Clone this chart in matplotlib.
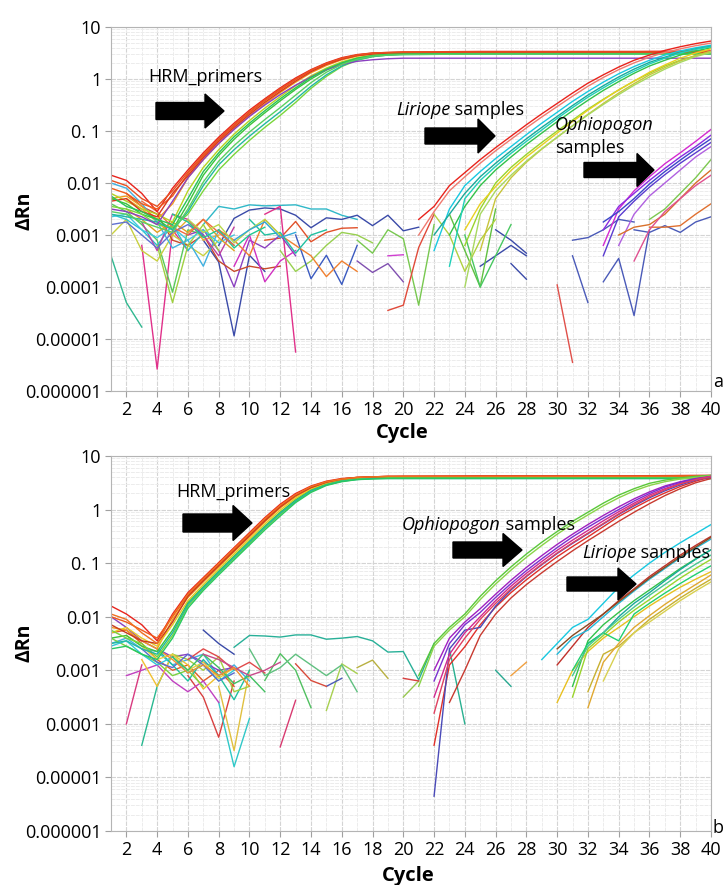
import numpy as np
import matplotlib; matplotlib.use("Agg")
import matplotlib.pyplot as plt
from matplotlib.patches import Polygon
from matplotlib.ticker import FixedLocator, NullFormatter, LogLocator

plt.rcParams['font.family'] = ['Open Sans', 'DejaVu Sans']

# ---------- data: log10(ΔRn) ----------
HRM_CYC = [1, 2, 3, 4, 5, 6, 7, 8, 9, 10, 11, 12, 13, 14, 15, 16, 17, 18, 19, 20, 25, 30, 35, 40]

A_HRM = [
    [-1.85, -1.95, -2.20, -2.55, -2.10, -1.75, -1.42, -1.12, -0.85, -0.60, -0.38, -0.17, 0.02, 0.18, 0.31, 0.41, 0.47, 0.50, 0.51, 0.52, 0.53, 0.53, 0.53, 0.54],
    [-2.10, -2.20, -2.40, -2.50, -2.25, -1.82, -1.48, -1.17, -0.90, -0.65, -0.42, -0.21, -0.01, 0.16, 0.29, 0.39, 0.46, 0.49, 0.50, 0.51, 0.51, 0.51, 0.51, 0.51],
    [-2.30, -2.25, -2.45, -2.70, -2.40, -1.90, -1.55, -1.24, -0.96, -0.71, -0.48, -0.26, -0.06, 0.12, 0.26, 0.37, 0.44, 0.48, 0.50, 0.50, 0.50, 0.50, 0.50, 0.50],
    [-2.20, -2.35, -2.50, -2.60, -2.75, -2.15, -1.70, -1.36, -1.06, -0.80, -0.56, -0.34, -0.13, 0.06, 0.21, 0.33, 0.41, 0.46, 0.48, 0.49, 0.50, 0.50, 0.50, 0.50],
    [-2.30, -2.40, -2.60, -2.70, -2.90, -2.40, -1.85, -1.47, -1.16, -0.89, -0.65, -0.42, -0.20, 0.00, 0.17, 0.30, 0.39, 0.44, 0.47, 0.48, 0.49, 0.49, 0.49, 0.49],
    [-2.45, -2.50, -2.60, -2.80, -2.85, -2.60, -2.15, -1.75, -1.45, -1.18, -0.93, -0.70, -0.45, -0.18, 0.05, 0.24, 0.36, 0.43, 0.46, 0.48, 0.49, 0.50, 0.50, 0.50],
    [-2.60, -2.65, -2.70, -2.75, -2.90, -2.55, -2.05, -1.65, -1.36, -1.10, -0.86, -0.63, -0.39, -0.14, 0.08, 0.25, 0.37, 0.43, 0.46, 0.47, 0.48, 0.48, 0.48, 0.48],
    [-2.50, -2.55, -2.65, -2.80, -2.35, -1.90, -1.55, -1.24, -0.97, -0.72, -0.50, -0.30, -0.12, 0.04, 0.18, 0.28, 0.34, 0.37, 0.39, 0.40, 0.40, 0.40, 0.40, 0.40],
    [-2.35, -2.30, -2.55, -2.65, -2.20, -1.86, -1.51, -1.20, -0.93, -0.68, -0.45, -0.24, -0.04, 0.14, 0.28, 0.38, 0.45, 0.48, 0.50, 0.50, 0.51, 0.51, 0.51, 0.51],
    [-2.25, -2.45, -2.55, -2.70, -2.80, -2.30, -1.78, -1.42, -1.11, -0.85, -0.61, -0.38, -0.17, 0.03, 0.19, 0.31, 0.40, 0.45, 0.47, 0.48, 0.49, 0.49, 0.49, 0.49],
    [-1.95, -2.05, -2.30, -2.45, -2.15, -1.79, -1.45, -1.15, -0.88, -0.63, -0.40, -0.19, 0.00, 0.17, 0.30, 0.40, 0.46, 0.50, 0.51, 0.52, 0.52, 0.52, 0.52, 0.52],
    [-2.55, -2.60, -2.75, -2.85, -2.95, -2.50, -1.98, -1.58, -1.28, -1.02, -0.78, -0.55, -0.31, -0.07, 0.13, 0.28, 0.38, 0.44, 0.46, 0.47, 0.48, 0.48, 0.48, 0.48],
]
A_HRM_COL = ['#e8231c', '#f05a1a', '#f39a1b', '#b6d31f', '#3cc43c', '#7ad63a', '#23b8a0', '#8a3fc0',
             '#d8361e', '#27c457', '#e85020', '#5ad060']

A_LIR_START = [21, 21, 22, 22, 23, 24, 24, 25, 23, 24]
A_LIR = [
    [-2.70, -2.45, -2.05, -1.80, -1.55, -1.32, -1.10, -0.88, -0.67, -0.47, -0.27, -0.08, 0.08, 0.23, 0.36, 0.46, 0.55, 0.62, 0.68, 0.73],
    [-3.00, -2.55, -2.15, -1.88, -1.62, -1.38, -1.16, -0.94, -0.73, -0.53, -0.33, -0.14, 0.03, 0.18, 0.31, 0.42, 0.51, 0.58, 0.64, 0.69],
    [-3.30, -2.50, -2.05, -1.78, -1.53, -1.30, -1.07, -0.85, -0.64, -0.43, -0.24, -0.06, 0.10, 0.24, 0.36, 0.46, 0.54, 0.60, 0.65],
    [-3.00, -2.60, -2.20, -1.88, -1.62, -1.38, -1.15, -0.93, -0.72, -0.51, -0.31, -0.13, 0.04, 0.19, 0.32, 0.42, 0.51, 0.58, 0.63],
    [-3.00, -2.45, -2.05, -1.75, -1.50, -1.26, -1.04, -0.82, -0.61, -0.41, -0.22, -0.05, 0.11, 0.25, 0.36, 0.46, 0.54, 0.60],
    [-3.20, -2.50, -2.00, -1.70, -1.45, -1.22, -1.00, -0.79, -0.58, -0.39, -0.21, -0.04, 0.11, 0.25, 0.36, 0.45, 0.53],
    [-2.90, -2.40, -2.07, -1.76, -1.50, -1.27, -1.04, -0.82, -0.60, -0.40, -0.21, -0.04, 0.13, 0.27, 0.40, 0.50, 0.58],
    [-3.30, -2.30, -1.90, -1.60, -1.35, -1.12, -0.90, -0.68, -0.47, -0.27, -0.09, 0.08, 0.22, 0.35, 0.45, 0.53],
    [-3.60, -2.30, -1.95, -1.68, -1.43, -1.20, -0.98, -0.76, -0.55, -0.35, -0.17, 0.00, 0.15, 0.29, 0.40, 0.50, 0.57, 0.62],
    [-4.00, -2.60, -2.15, -1.85, -1.58, -1.34, -1.12, -0.90, -0.69, -0.49, -0.30, -0.12, 0.04, 0.19, 0.32, 0.43, 0.51],
]
A_LIR_COL = ['#e8231c', '#f07a70', '#18c8e0', '#1aa89a', '#32c24a', '#9ad42c', '#e8d020', '#c8c43a', '#20d0b8', '#a8d860']

A_OPH_START = [33, 33, 33, 34, 34, 35, 36, 33]
A_OPH = [
    [-3.20, -2.50, -2.15, -1.88, -1.63, -1.42, -1.20, -0.97],
    [-2.90, -2.45, -2.20, -1.95, -1.72, -1.50, -1.30, -1.08],
    [-2.75, -2.55, -2.30, -2.02, -1.78, -1.56, -1.35, -1.15],
    [-3.20, -2.60, -2.25, -2.00, -1.75, -1.50, -1.30],
    [-3.00, -2.85, -2.80, -2.60, -2.30, -2.00, -1.75],
    [-3.50, -2.90, -2.55, -2.30, -2.05, -1.85],
    [-2.70, -2.50, -2.20, -1.90, -1.55],
    [-3.40, -2.65, -2.35, -2.08, -1.84, -1.62, -1.42, -1.22],
]
A_OPH_COL = ['#d42ad0', '#8a2be2', '#3a46c8', '#b060e0', '#d8702a', '#e05090', '#7cc850', '#5a3cd0']

A_NOISE_START = [7, 8, 11, 11, 3, 7, 1, 1, 1, 6, 2, 9, 12, 13, 17, 17, 19, 19, 26, 25, 27, 30, 31, 31, 33, 35,
                 36, 23, 1, 2, 1, 4, 3, 8, 10, 22, 24, 1, 2, 1, 5, 3, 6, 9]
A_NOISE = [
    [-2.80, -2.45, -2.50, -2.42, -2.44, -2.43, -2.42, -2.50, -2.50, -2.62, -2.70],
    [-3.20, -2.68, -2.52, -2.48, -2.50, -2.62, -2.86, -2.67, -2.70, -2.62, -2.82, -2.62, -2.92, -2.85],
    [-3.10, -3.06, -2.74, -3.13, -2.95, -2.87, -2.86],
    [-2.60, -2.45, -5.25],
    [-3.20, -5.58, -2.90, -3.30],
    [-3.10, -3.52, -4.94, -3.39, -3.70],
    [-3.40, -4.30, -4.77],
    [-2.40, -2.55, -2.80, -3.10, -4.10, -2.90, -3.00],
    [-3.00, -2.70, -3.30, -3.50, -3.00, -3.20, -3.40, -3.10],
    [-3.00, -2.90, -3.30, -4.00, -3.10, -3.25, -3.00, -3.40],
    [-2.20, -2.45, -2.60, -3.10, -3.20, -3.00, -3.50, -3.70, -3.60, -3.65, -3.60],
    [-3.60, -3.00, -3.90, -3.50, -3.30],
    [-3.30, -3.70, -3.50, -3.20, -2.95, -3.00, -3.15],
    [-3.00, -3.84, -3.39, -3.95, -3.20],
    [-3.10, -3.35, -2.90, -3.07, -4.35, -2.80],
    [-3.50, -3.72, -3.55, -3.90],
    [-3.40, -3.38],
    [-4.45, -4.35, -3.24, -2.60],
    [-2.90, -3.10, -3.35],
    [-3.60, -3.40, -3.20, -3.40],
    [-3.55, -3.85],
    [-3.96, -5.45],
    [-3.40, -4.30],
    [-3.10, -3.05, -2.90, -2.70, -2.75],
    [-3.90, -3.45, -4.55, -2.90],
    [-2.90, -2.95, -2.82, -2.95, -2.75, -2.65],
    [-2.85, -2.85, -2.82, -2.60, -2.40],
    [-2.60, -3.30, -4.00, -2.50],
    [-2.60, -2.70, -2.90, -3.20, -2.80, -3.30, -2.95],
    [-2.30, -2.50, -2.75, -3.00, -2.70, -3.10, -3.00],
    [-2.00, -2.10, -2.40, -2.75, -3.25, -3.10, -3.60, -2.90, -3.20],
    [-3.20, -4.30, -3.20, -2.80, -3.30],
    [-2.75, -3.30, -2.60, -2.70, -3.00, -3.40, -2.85],
    [-2.90, -3.10, -3.40, -2.70, -3.00, -3.20, -3.40, -3.80, -3.50, -3.70],
    [-2.70, -3.00, -2.95, -3.35, -3.00, -2.90],
    [-2.60, -3.00, -3.70, -3.10, -2.70],
    [-3.00, -4.00, -3.40, -2.80],
    [-2.65, -2.60, -2.90, -3.05, -2.85, -3.10, -2.90, -3.15, -3.00],
    [-2.50, -2.70, -2.95, -2.75, -2.95, -2.70, -3.05, -3.30],
    [-2.80, -2.75, -3.00, -3.25, -2.95, -2.80, -3.00],
    [-2.60, -2.75, -3.05, -2.90, -3.25, -3.00, -2.85],
    [-2.35, -2.55, -2.85, -3.00, -2.70, -2.95, -3.20],
    [-2.70, -2.95, -2.80, -3.15, -2.90, -2.70, -3.00],
    [-3.10, -2.90, -2.75, -3.05, -2.95],
]
A_NOISE_COL = ['#2fb8c8', '#3a4aa8', '#e0502a', '#e0308a', '#e0308a', '#3a4aa8', '#30b890', '#5ac85a', '#c8d040',
               '#8a40c0', '#c84a2a', '#d030c0', '#98d050', '#3a5ac0', '#78c850', '#8050b0', '#d040d0', '#e04a3a',
               '#3a4aa8', '#3a4aa8', '#3a4aa8', '#e0504a', '#4a5ab8', '#4a5ab8', '#4a5ab8', '#4a5ab8', '#e07030',
               '#60c040', '#28c0d0', '#e8b030', '#40b0e0', '#a0d040', '#c040a0', '#f08030', '#20c0a0', '#b0d040',
               '#48c860', '#40c8e0', '#e0a020', '#6070d0', '#20c890', '#f06a40', '#b8d848', '#30a8d8']

B_HRM = [
    [-1.80, -1.95, -2.15, -2.45, -1.95, -1.55, -1.27, -0.99, -0.71, -0.43, -0.15, 0.10, 0.30, 0.44, 0.53, 0.58, 0.60, 0.61, 0.62, 0.62, 0.63, 0.63, 0.63, 0.64],
    [-2.00, -2.10, -2.25, -2.40, -2.00, -1.60, -1.31, -1.03, -0.75, -0.47, -0.19, 0.06, 0.27, 0.42, 0.52, 0.57, 0.60, 0.61, 0.61, 0.62, 0.62, 0.62, 0.62, 0.62],
    [-2.20, -2.25, -2.45, -2.60, -2.05, -1.64, -1.35, -1.07, -0.79, -0.51, -0.23, 0.03, 0.24, 0.40, 0.50, 0.56, 0.59, 0.60, 0.61, 0.61, 0.61, 0.61, 0.61, 0.61],
    [-2.30, -2.20, -2.40, -2.55, -2.15, -1.70, -1.40, -1.11, -0.83, -0.55, -0.27, -0.01, 0.21, 0.38, 0.49, 0.55, 0.58, 0.60, 0.60, 0.60, 0.60, 0.60, 0.60, 0.60],
    [-2.40, -2.35, -2.55, -2.65, -2.25, -1.74, -1.44, -1.15, -0.87, -0.59, -0.31, -0.05, 0.18, 0.36, 0.47, 0.54, 0.57, 0.59, 0.59, 0.60, 0.60, 0.60, 0.60, 0.60],
    [-2.25, -2.40, -2.50, -2.75, -2.35, -1.80, -1.48, -1.19, -0.91, -0.63, -0.35, -0.09, 0.15, 0.34, 0.46, 0.53, 0.57, 0.58, 0.59, 0.59, 0.59, 0.59, 0.59, 0.59],
    [-2.50, -2.45, -2.60, -2.70, -2.30, -1.77, -1.46, -1.17, -0.89, -0.61, -0.33, -0.07, 0.16, 0.35, 0.46, 0.53, 0.56, 0.58, 0.58, 0.58, 0.58, 0.58, 0.58, 0.58],
    [-2.15, -2.30, -2.45, -2.50, -2.10, -1.62, -1.33, -1.05, -0.77, -0.49, -0.21, 0.05, 0.26, 0.41, 0.51, 0.57, 0.60, 0.61, 0.62, 0.62, 0.62, 0.62, 0.62, 0.63],
    [-2.60, -2.55, -2.70, -2.80, -2.40, -1.84, -1.51, -1.22, -0.94, -0.66, -0.38, -0.12, 0.13, 0.32, 0.45, 0.52, 0.56, 0.57, 0.58, 0.58, 0.58, 0.58, 0.58, 0.58],
    [-1.95, -2.05, -2.30, -2.50, -1.98, -1.58, -1.29, -1.01, -0.73, -0.45, -0.17, 0.08, 0.28, 0.43, 0.52, 0.57, 0.60, 0.61, 0.62, 0.62, 0.62, 0.62, 0.62, 0.63],
]
B_HRM_COL = ['#e8231c', '#f05a1a', '#f39a1b', '#e8c820', '#3cc43c', '#7ad63a', '#23b8a0', '#c83a20', '#28c860', '#f07020']

B_OPH_START = [21, 21, 22, 22, 22, 22, 22, 22, 23]
B_OPH = [
    [-3.10, -2.50, -2.20, -1.95, -1.62, -1.33, -1.07, -0.83, -0.61, -0.41, -0.22, -0.05, 0.12, 0.27, 0.39, 0.49, 0.55, 0.59, 0.62, 0.64],
    [-3.30, -2.55, -2.25, -2.00, -1.68, -1.39, -1.13, -0.89, -0.67, -0.46, -0.27, -0.10, 0.07, 0.22, 0.35, 0.45, 0.52, 0.57, 0.60, 0.63],
    [-4.40, -2.90, -2.56, -2.15, -1.82, -1.55, -1.31, -1.09, -0.88, -0.69, -0.51, -0.32, -0.13, 0.03, 0.18, 0.31, 0.43, 0.53, 0.61],
    [-5.35, -2.60, -2.25, -2.20, -1.80, -1.50, -1.25, -1.03, -0.82, -0.63, -0.45, -0.27, -0.09, 0.07, 0.22, 0.35, 0.46, 0.55, 0.62],
    [-3.00, -2.40, -2.10, -1.85, -1.58, -1.32, -1.08, -0.86, -0.65, -0.46, -0.28, -0.11, 0.05, 0.20, 0.33, 0.44, 0.52, 0.58, 0.62],
    [-3.50, -2.70, -2.30, -2.00, -1.70, -1.43, -1.19, -0.97, -0.76, -0.57, -0.39, -0.21, -0.04, 0.12, 0.27, 0.39, 0.49, 0.56, 0.61],
    [-3.20, -2.50, -2.15, -1.92, -1.64, -1.38, -1.14, -0.92, -0.71, -0.51, -0.33, -0.16, 0.00, 0.16, 0.30, 0.42, 0.51, 0.57, 0.61],
    [-3.80, -2.80, -2.40, -2.05, -1.75, -1.48, -1.24, -1.02, -0.81, -0.62, -0.44, -0.26, -0.08, 0.09, 0.24, 0.37, 0.48, 0.56, 0.62],
    [-3.60, -3.00, -2.35, -1.95, -1.65, -1.40, -1.18, -0.97, -0.77, -0.58, -0.40, -0.22, -0.05, 0.11, 0.26, 0.39, 0.50, 0.58],
]
B_OPH_COL = ['#5ac83a', '#8ad448', '#e0302a', '#4a4ab8', '#a020c0', '#d02890', '#7a30d0', '#e04060', '#c83a30']

B_LIR_START = [29, 30, 30, 31, 30, 32, 31, 32, 31, 33, 30, 31, 32]
B_LIR = [
    [-2.80, -2.50, -2.20, -2.05, -1.75, -1.45, -1.22, -1.00, -0.80, -0.62, -0.45, -0.28],
    [-2.90, -2.55, -2.20, -1.95, -1.70, -1.48, -1.25, -1.05, -0.85, -0.67, -0.50],
    [-2.70, -2.40, -2.25, -2.00, -1.75, -1.52, -1.30, -1.10, -0.90, -0.72, -0.55],
    [-3.30, -2.45, -2.15, -1.92, -1.70, -1.50, -1.30, -1.10, -0.92, -0.75],
    [-3.60, -3.00, -2.65, -2.40, -2.20, -2.00, -1.80, -1.62, -1.45, -1.30, -1.16],
    [-2.50, -2.30, -2.00, -1.75, -1.55, -1.33, -1.12, -0.93, -0.75],
    [-3.50, -2.60, -2.35, -2.10, -1.88, -1.68, -1.48, -1.28, -1.10, -0.93],
    [-3.40, -2.70, -2.55, -2.30, -2.05, -1.85, -1.65, -1.47, -1.30],
    [-3.00, -2.50, -2.30, -2.45, -1.95, -1.75, -1.56, -1.38, -1.21, -1.05],
    [-3.20, -2.60, -2.30, -2.10, -1.90, -1.70, -1.52, -1.35],
    [-2.60, -2.35, -2.15, -1.95, -1.72, -1.50, -1.28, -1.08, -0.88, -0.70, -0.52],
    [-3.10, -2.55, -2.30, -2.05, -1.82, -1.60, -1.40, -1.20, -1.02, -0.85],
    [-3.70, -2.85, -2.50, -2.20, -1.98, -1.77, -1.58, -1.40, -1.22],
]
B_LIR_COL = ['#18c8e0', '#c0302a', '#20b8d8', '#32c24a', '#e8c020', '#1aa89a', '#9ad42c', '#c8b030', '#20d070',
             '#d8d050', '#8a4a20', '#48c890', '#e0a830']

B_NOISE_START = [9, 2, 3, 6, 8, 8, 7, 11, 12, 15, 17, 15, 13, 20, 20, 26, 27, 10, 1, 1, 2, 1, 3, 4, 5, 23, 1, 6,
                 1, 2, 3, 5, 7, 4]
B_NOISE = [
    [-2.57, -2.35, -2.36, -2.38, -2.34, -2.34, -2.42, -2.40, -2.37, -2.45, -2.66, -2.65, -3.18, -2.50],
    [-4.00, -2.90],
    [-4.40, -3.30, -2.70],
    [-3.10, -3.50, -4.25, -3.20],
    [-3.60, -4.80, -3.90],
    [-3.30, -4.50, -3.00],
    [-2.25, -2.50, -2.70],
    [-3.19, -2.69, -3.00, -3.70],
    [-4.43, -3.56],
    [-3.75, -2.88, -3.06],
    [-2.95, -2.81, -3.15],
    [-3.30, -3.15],
    [-2.88, -3.19, -3.30],
    [-3.50, -3.20],
    [-3.15, -3.20],
    [-3.00, -3.30],
    [-3.10, -2.85],
    [-2.60, -3.10, -2.95, -2.70, -2.90, -3.10, -2.90, -3.40],
    [-2.30, -2.25, -2.50, -2.80, -3.00, -2.90, -3.20, -3.00, -3.30],
    [-2.50, -2.40, -2.60, -2.65, -2.90, -2.80, -2.70, -3.10, -2.90, -3.20],
    [-3.10, -3.00, -2.90, -3.20, -3.40, -3.20, -3.60],
    [-2.00, -2.20, -2.45, -2.60, -2.75, -2.70, -2.85, -3.00, -2.95],
    [-2.80, -3.30, -2.70, -2.90, -3.35, -3.10],
    [-2.60, -2.90, -3.20, -2.80, -3.10, -3.55, -3.00],
    [-2.70, -2.80, -3.00, -2.75, -3.40, -3.30],
    [-2.60, -4.00],
    [-2.40, -2.55, -2.70, -2.85, -3.10, -3.00, -3.30],
    [-2.80, -2.60, -2.75, -3.00, -2.85, -3.05],
    [-2.55, -2.45, -2.70, -2.90, -2.75, -3.05, -2.90, -3.20, -3.00],
    [-2.35, -2.55, -2.80, -2.70, -3.00, -2.85, -3.15, -2.95],
    [-2.60, -2.85, -2.95, -2.70, -2.90, -3.20, -3.05],
    [-2.75, -3.00, -2.70, -2.95, -3.25, -3.10, -3.40],
    [-2.70, -2.80, -2.95, -3.10, -3.00, -2.85],
    [-2.60, -2.80, -3.05, -2.90, -3.10, -2.95, -3.30],
]
B_NOISE_COL = ['#28b098', '#d83a80', '#28b890', '#d84040', '#30c8c8', '#e0c040', '#3a4aa8', '#50c060', '#d83a70',
               '#a8d050', '#b8b040', '#4a5ab8', '#d84a3a', '#98c850', '#d84040', '#28a890', '#f0a040', '#60c080',
               '#e05a2a', '#40b0e0', '#c040c0', '#8a40c0', '#f0c030', '#20c0a0', '#a0d040', '#28b090', '#7ad040',
               '#e04a4a', '#30c8d8', '#e8d040', '#5a6ad0', '#40c060', '#c84a8a', '#f09030']

Y_TICKS = [1e1, 1e0, 1e-1, 1e-2, 1e-3, 1e-4, 1e-5, 1e-6]
Y_LABELS = ['10', '1', '0. 1', '0.01', '0.001', '0.0001', '0.00001', '0.000001']
X_TICKS = list(range(2, 41, 2))

W, H = 723, 885


def lines(ax, starts, curves, cols, lw=1.0):
    for s, v, c in zip(starts, curves, cols):
        ax.plot(range(s, s + len(v)), np.power(10.0, v), color=c, lw=lw, solid_joinstyle='round')


def block_arrow(fig, x0, xh, x1, yc, hs, hh):
    # pixel coords (top-left origin) -> figure fraction
    pts = [(x0, yc - hs), (xh, yc - hs), (xh, yc - hh), (x1, yc), (xh, yc + hh), (xh, yc + hs), (x0, yc + hs)]
    fig.patches.append(Polygon([(x / W, 1 - y / H) for x, y in pts], closed=True, fc='black', ec='black',
                               transform=fig.transFigure, figure=fig))


def style(ax):
    ax.set_yscale('log')
    ax.set_xlim(1, 40); ax.set_ylim(1e-6, 10)
    ax.set_xticks(X_TICKS); ax.set_xticklabels([str(t) for t in X_TICKS], fontsize=13)
    ax.xaxis.set_minor_locator(FixedLocator(range(1, 41)))
    ax.set_yticks(Y_TICKS); ax.set_yticklabels(Y_LABELS, fontsize=13)
    ax.yaxis.set_minor_locator(LogLocator(base=10, subs=np.arange(2, 10)))
    ax.yaxis.set_minor_formatter(NullFormatter())
    ax.grid(which='major', color='#d4d4d4', lw=0.8, ls=(0, (4, 1)))
    ax.grid(which='minor', color='#ececec', lw=0.7, ls=(0, (4, 1)))
    ax.set_axisbelow(True)
    ax.tick_params(which='major', length=4, color='#a0a0a0', pad=3)
    ax.tick_params(which='minor', length=0)
    for sp in ax.spines.values():
        sp.set_color('#b4b4b4')


fig = plt.figure(figsize=(7.23, 8.85), dpi=100)
axa = fig.add_axes([111 / W, 1 - 391 / H, 600 / W, 364 / H])
axb = fig.add_axes([111 / W, 1 - 831 / H, 600 / W, 375 / H])

lines(axa, A_NOISE_START, A_NOISE, A_NOISE_COL)
for v, c in zip(A_HRM, A_HRM_COL):
    axa.plot(HRM_CYC, np.power(10.0, v), color=c, lw=1.0)
lines(axa, A_LIR_START, A_LIR, A_LIR_COL)
lines(axa, A_OPH_START, A_OPH, A_OPH_COL)
style(axa)

lines(axb, B_NOISE_START, B_NOISE, B_NOISE_COL)
for v, c in zip(B_HRM, B_HRM_COL):
    axb.plot(HRM_CYC, np.power(10.0, v), color=c, lw=1.0)
lines(axb, B_OPH_START, B_OPH, B_OPH_COL)
lines(axb, B_LIR_START, B_LIR, B_LIR_COL)
style(axb)


def ftxt(x, y, s, **kw):
    kw.setdefault('fontsize', 13)
    return fig.text(x / W, 1 - y / H, s, **kw)


ftxt(402, 433, 'Cycle', ha='center', va='center', fontsize=14.5, fontweight='bold')
ftxt(408, 876, 'Cycle', ha='center', va='center', fontsize=14.5, fontweight='bold')
for yc in (211, 643):
    ftxt(25, yc, 'ΔRn', ha='center', va='center', fontsize=14, fontweight='bold', rotation=90)
ftxt(713, 382, 'a', ha='left', va='center')
ftxt(713, 828, 'b', ha='left', va='center')

# panel a annotations
ftxt(148, 77, 'HRM_primers', ha='left', va='center')
lir_a = ftxt(396, 110, 'Liriope', ha='left', va='center', style='italic')
ftxt(555, 125, 'Ophiopogon', ha='left', va='center', style='italic')
ftxt(555, 148, 'samples', ha='left', va='center')
block_arrow(fig, 156, 205, 224, 111, 8.5, 17)
block_arrow(fig, 425, 478, 495, 136, 8, 17)
block_arrow(fig, 584, 637, 654, 170, 7.5, 16.5)

# panel b annotations
ftxt(176, 492, 'HRM_primers', ha='left', va='center')
oph_b = ftxt(402, 525, 'Ophiopogon', ha='left', va='center', style='italic')
lir_b = ftxt(582, 553, 'Liriope', ha='left', va='center', style='italic')
block_arrow(fig, 183, 233, 252, 523, 9, 17.5)
block_arrow(fig, 453, 503, 522, 550, 8, 16.5)
block_arrow(fig, 567, 618, 636, 584, 7, 16)

# upright " samples" right after the italic names
fig.canvas.draw()
rend = fig.canvas.get_renderer()
for tx in (lir_a, oph_b, lir_b):
    bb = tx.get_window_extent(rend).transformed(fig.transFigure.inverted())
    fig.text(bb.x1, tx.get_position()[1], ' samples', ha='left', va='center', fontsize=13)

fig.savefig('out.png', dpi=100)
